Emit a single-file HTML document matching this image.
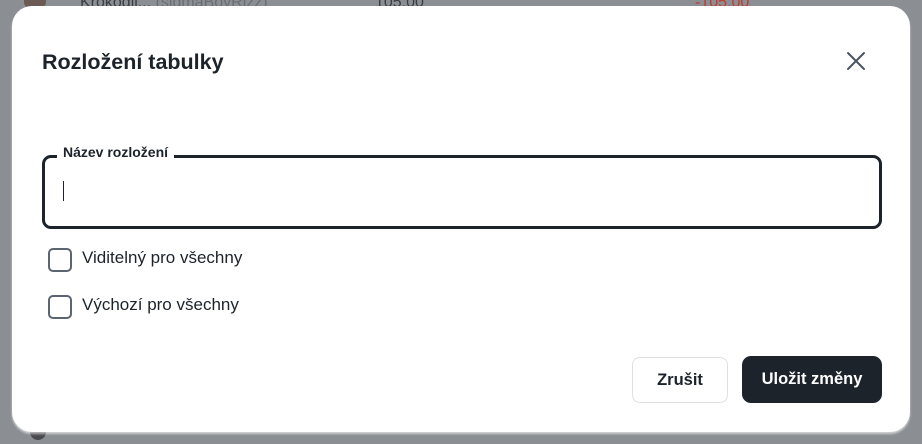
<!DOCTYPE html>
<html><head><meta charset="utf-8"><style>
body{margin:0;width:922px;height:444px;background:#8b8e92;position:relative;overflow:hidden;font-family:"Liberation Sans",sans-serif;}
.bg{position:absolute;top:-6px;font-size:16px;color:#3a3d42;}
.dlg{position:absolute;left:12px;top:6px;width:898px;height:426px;background:#fff;border-radius:20px;box-shadow:0 2px 2px rgba(255,255,255,.6);}
.t{position:absolute;left:42px;top:50px;font-size:21.5px;font-weight:bold;color:#1d232b;}
.x{position:absolute;left:846px;top:51px;}
.inp{position:absolute;left:42px;top:155px;width:834px;height:68px;border:3px solid #1d232b;border-radius:9px;}
.lbl{position:absolute;left:57px;top:144px;background:#fff;padding:0 6px;font-size:14px;font-weight:bold;color:#1d232b;}
.caret{position:absolute;left:63px;top:181px;width:1px;height:20px;background:#1d232b;}
.cb{position:absolute;left:48px;width:20px;height:20px;border:2px solid #5b6470;border-radius:5px;}
.cl{position:absolute;left:82px;font-size:17px;color:#1d232b;}
.b1{position:absolute;left:632px;top:357px;width:94px;height:44px;border:1px solid #dde0e4;border-radius:8px;font-size:16.5px;font-weight:bold;color:#1d232b;text-align:center;line-height:44px;}
.b2{position:absolute;left:742px;top:356px;width:140px;height:47px;background:#1d232b;border-radius:9px;font-size:16.5px;font-weight:bold;color:#fff;text-align:center;line-height:47px;}
</style></head><body>
<div class="bg" style="left:80px">Krokodil... <span style="color:#6a6e74">(sigmaBoyRizz)</span></div>
<div class="bg" style="left:375px">105:00</div>
<div class="bg" style="left:695px;color:#c03a30">-105:00</div>
<div style="position:absolute;left:24px;top:-4px;width:22px;height:12px;background:#6b5b55;border-radius:0 0 6px 6px"></div>
<div style="position:absolute;left:30px;top:428px;width:16px;height:12px;background:#4a4a50;border-radius:0 0 8px 8px"></div>
<div class="dlg"></div>
<div class="t">Rozložení tabulky</div>
<svg class="x" width="20" height="20" viewBox="0 0 20 20"><path d="M2 2L18 18M18 2L2 18" stroke="#4b5562" stroke-width="2" stroke-linecap="round"/></svg>
<div class="inp"></div>
<div class="lbl">Název rozložení</div>
<div class="caret"></div>
<div class="cb" style="top:248px"></div><div class="cl" style="top:248px">Viditelný pro všechny</div>
<div class="cb" style="top:295px"></div><div class="cl" style="top:295px">Výchozí pro všechny</div>
<div class="b1">Zrušit</div>
<div class="b2">Uložit změny</div>
</body></html>
